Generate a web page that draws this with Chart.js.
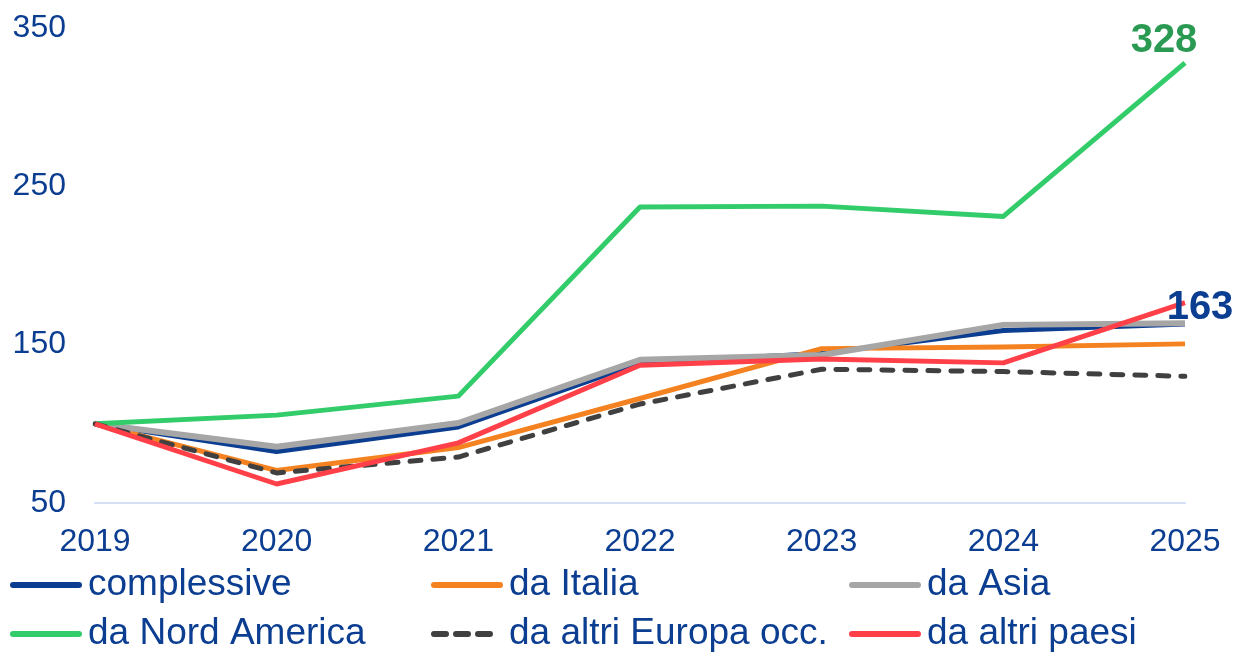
<!DOCTYPE html>
<html>
<head>
<meta charset="utf-8">
<script src="https://cdn.jsdelivr.net/npm/chart.js@4.4.1/dist/chart.umd.min.js"></script>
<style>
    body { margin: 0; background: #fff; }
    #wrap { width: 1238px; height: 652px; }
</style>
</head>
<body>
<div id="wrap"><canvas id="myChart"></canvas></div>
<script>
var years = ["2019", "2020", "2021", "2022", "2023", "2024", "2025"];
var yTicks = [50, 150, 250, 350];

var complessive = [100, 82.5, 98, 138.5, 144.5, 159, 163];
var daItalia = [100, 70.5, 85, 116, 147.5, 148.5, 150.5];
var daAsia = [100, 85.5, 100.5, 140.5, 143.5, 162.5, 163.5];
var daNordAmerica = [100, 105.5, 117.5, 237, 237.5, 231, 328];
var daAltriEuropa = [100, 69, 79, 112.5, 134.5, 133, 130];
var daAltriPaesi = [100, 62, 88, 137, 141, 138.5, 176.5];

var BLUE = '#0b3d91';
var FONT = '"Liberation Sans", Arial, sans-serif';

// legend in three fixed columns under the axis
var legendPlugin = {
    id: 'colLegend',
    afterDraw: function (chart) {
        var ctx = chart.ctx;
        var cols = [10, 431, 849];
        var rows = [585, 634];
        ctx.save();
        ctx.font = '37px ' + FONT;
        ctx.textBaseline = 'middle';
        chart.data.datasets.forEach(function (ds, i) {
            var x = cols[i % 3];
            var y = rows[Math.floor(i / 3)];
            ctx.strokeStyle = ds.borderColor;
            ctx.lineWidth = 6;
            ctx.lineCap = 'round';
            ctx.setLineDash(ds.borderDash ? [12, 10] : []);
            ctx.beginPath();
            ctx.moveTo(x + 3, y);
            ctx.lineTo(x + 69, y);
            ctx.stroke();
            ctx.setLineDash([]);
            ctx.fillStyle = BLUE;
            ctx.fillText(ds.label, x + 78, y);
        });
        ctx.restore();
    }
};

// value labels at the end of two series
var endLabels = {
    id: 'endLabels',
    afterDatasetsDraw: function (chart) {
        var ctx = chart.ctx;
        ctx.save();
        ctx.font = 'bold 40px ' + FONT;
        ctx.textAlign = 'center';
        ctx.textBaseline = 'middle';
        chart.data.datasets.forEach(function (ds, i) {
            if (!ds.endLabel) return;
            var meta = chart.getDatasetMeta(i);
            var pt = meta.data[meta.data.length - 1];
            ctx.fillStyle = ds.endLabel.color;
            ctx.fillText(String(ds.data[ds.data.length - 1]), pt.x + ds.endLabel.dx, pt.y + ds.endLabel.dy);
        });
        ctx.restore();
    }
};

var ctx = document.getElementById('myChart').getContext('2d');
var chart = new Chart(ctx, {
    type: 'line',
    data: {
        labels: years,
        datasets: [{
            label: 'complessive',
            data: complessive,
            borderColor: BLUE,
            borderWidth: 5,
            order: 6,
            endLabel: { color: BLUE, dx: 15, dy: -16 }
        }, {
            label: 'da Italia',
            data: daItalia,
            borderColor: '#f58220',
            borderWidth: 5,
            order: 5
        }, {
            label: 'da Asia',
            data: daAsia,
            borderColor: '#a6a6a6',
            borderWidth: 6,
            order: 4
        }, {
            label: 'da Nord America',
            data: daNordAmerica,
            borderColor: '#33cc6b',
            borderWidth: 5,
            order: 3,
            endLabel: { color: '#2a9a52', dx: -21, dy: -22 }
        }, {
            label: 'da altri Europa occ.',
            data: daAltriEuropa,
            borderColor: '#404040',
            borderWidth: 5,
            borderDash: [11, 12],
            borderCapStyle: 'round',
            order: 2
        }, {
            label: 'da altri paesi',
            data: daAltriPaesi,
            borderColor: '#ff4049',
            borderWidth: 5,
            order: 1
        }]
    },
    options: {
        responsive: true,
        maintainAspectRatio: false,
        animation: false,
        layout: { padding: { top: 28, right: 53, bottom: 0, left: 0 } },
        elements: {
            point: { radius: 0, hoverRadius: 0 },
            line: { tension: 0, borderJoinStyle: 'round' }
        },
        plugins: {
            legend: { display: false },
            tooltip: { enabled: false }
        },
        scales: {
            x: {
                grid: { display: false, drawTicks: false },
                border: { display: true, color: '#d6e0f5', width: 2 },
                ticks: { color: BLUE, font: { size: 32, family: FONT }, padding: 20, maxRotation: 0 },
                afterFit: function (scale) { scale.height = 149; scale.paddingLeft = 0; scale.paddingRight = 0; }
            },
            y: {
                min: 50,
                max: 350,
                grid: { display: false, drawTicks: false },
                border: { display: false },
                afterBuildTicks: function (scale) {
                    scale.ticks = yTicks.map(function (v) { return { value: v }; });
                },
                ticks: { color: BLUE, font: { size: 32, family: FONT }, padding: 29 },
                afterFit: function (scale) { scale.width = 95; scale.paddingTop = 0; scale.paddingBottom = 0; }
            }
        }
    },
    plugins: [legendPlugin, endLabels]
});
</script>
</body>
</html>
